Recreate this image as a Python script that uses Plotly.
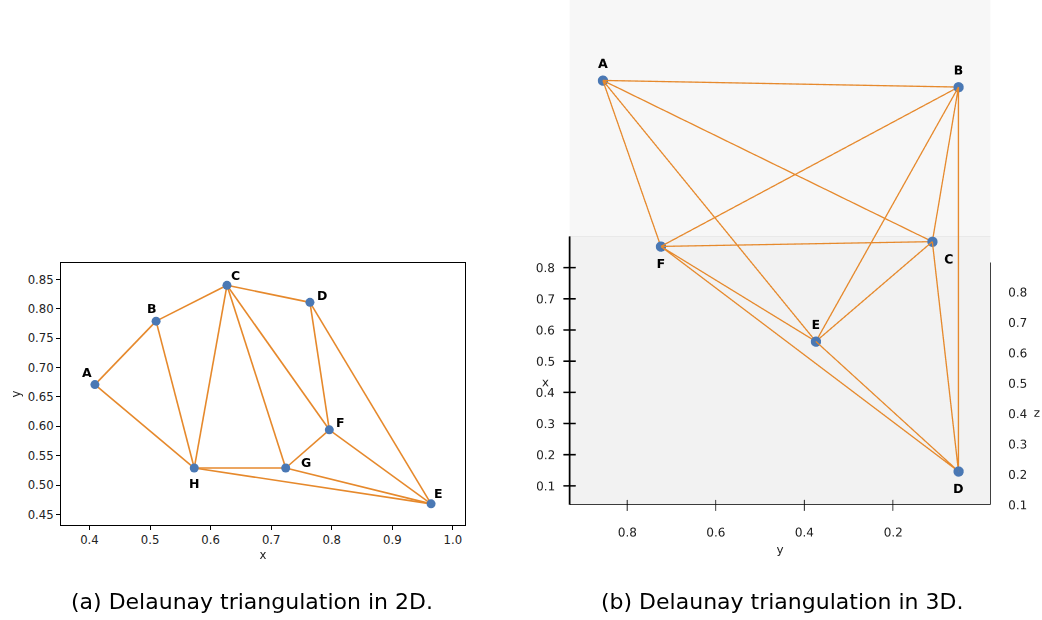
import math
import plotly.graph_objects as go

# ---------------- data: 2D panel ----------------
labels_2d = ["A", "B", "C", "D", "E", "F", "G", "H"]
x_2d = [0.409, 0.510, 0.627, 0.764, 0.964, 0.796, 0.724, 0.573]
y_2d = [0.671, 0.779, 0.840, 0.811, 0.468, 0.594, 0.529, 0.529]
edges_2d = [("A", "B"), ("A", "H"), ("B", "C"), ("B", "H"), ("C", "H"),
            ("C", "D"), ("C", "G"), ("C", "F"), ("D", "F"), ("D", "E"),
            ("F", "G"), ("F", "E"), ("G", "H"), ("G", "E"), ("H", "E")]
x_ticks_2d = [0.4, 0.5, 0.6, 0.7, 0.8, 0.9, 1.0]
y_ticks_2d = [0.45, 0.50, 0.55, 0.60, 0.65, 0.70, 0.75, 0.80, 0.85]

# ---------------- data: 3D panel ----------------
labels_3d = ["A", "B", "C", "D", "E", "F"]
x_3d = [0.831, 0.685, 0.470, 0.092, 0.298, 0.556]
y_3d = [0.855, 0.052, 0.111, 0.052, 0.374, 0.724]
z_3d = [0.664, 0.792, 0.504, 0.136, 0.352, 0.400]
edges_3d = [("A", "B"), ("A", "F"), ("A", "E"), ("A", "C"), ("B", "F"),
            ("B", "E"), ("B", "C"), ("B", "D"), ("C", "F"), ("C", "E"),
            ("C", "D"), ("F", "E"), ("F", "D"), ("E", "D")]
x_ticks_3d = [0.1, 0.2, 0.3, 0.4, 0.5, 0.6, 0.7, 0.8]
y_ticks_3d = [0.2, 0.4, 0.6, 0.8]
z_ticks_3d = [0.1, 0.2, 0.3, 0.4, 0.5, 0.6, 0.7, 0.8]

captions = ["(a) Delaunay triangulation in 2D.", "(b) Delaunay triangulation in 3D."]

# axis limits of the 3D box
X0, X1 = 0.04, 0.90
Y0, Y1 = -0.02, 0.93
Z0, Z1 = 0.08, 0.88

BLUE = "#4a78b4"
ORANGE = "#e6892c"
W, H = 1042, 620
TXT = "#222222"

fig = go.Figure()

# ---------- 2D panel ----------
idx2 = {k: i for i, k in enumerate(labels_2d)}
ex, ey = [], []
for a, b in edges_2d:
    ex += [x_2d[idx2[a]], x_2d[idx2[b]], None]
    ey += [y_2d[idx2[a]], y_2d[idx2[b]], None]
fig.add_trace(go.Scatter(x=ex, y=ey, mode="lines", line=dict(color=ORANGE, width=1.6),
                         hoverinfo="skip", showlegend=False))
fig.add_trace(go.Scatter(x=x_2d, y=y_2d, mode="markers",
                         marker=dict(color=BLUE, size=9), showlegend=False))

off_2d = {"A": (-8, 12), "B": (-4, 13), "C": (9, 10), "D": (12, 7), "E": (7, 10),
          "F": (11, 7), "G": (20, 6), "H": (0, -15)}
for i, lab in enumerate(labels_2d):
    dx, dy = off_2d[lab]
    fig.add_annotation(x=x_2d[i], y=y_2d[i], xref="x", yref="y", text="<b>%s</b>" % lab,
                       showarrow=False, xshift=dx, yshift=dy,
                       font=dict(family="DejaVu Sans", size=12.5, color="black"))

axis_font = dict(family="DejaVu Sans", size=11.7, color=TXT)
common2d = dict(showline=True, linecolor="black", linewidth=1, mirror=True, ticks="outside",
                ticklen=4, tickcolor="black", showgrid=False, zeroline=False,
                tickfont=axis_font, automargin=False)

# ---------- 3D scene geometry ----------
ext = {"x": (X0, X1, 0.65), "y": (Y0, Y1, 0.70), "z": (Z0, Z1, 0.42)}
base_aspect = {"x": 1.0, "y": 1.0, "z": 0.75}
zoom = 420 / 287          # orthographic zoom is controlled by the aspect ratio
ranges, aspect, norm = {}, {}, {}
for k, (lo, hi, half) in ext.items():
    c = (lo + hi) / 2
    ranges[k] = [c - half, c + half]
    aspect[k] = zoom * base_aspect[k] * (2 * half) / (hi - lo)
    norm[k] = aspect[k] / (2 * half)      # normalised scene units per data unit

el = math.radians(39.6)

# move along the viewing direction (invisible in an orthographic view):
# positive = away from the camera, negative = towards it
def away(a):
    return a * math.cos(el) / norm["x"], -a * math.sin(el) / norm["z"]

FLAT = dict(ambient=1, diffuse=0, specular=0, fresnel=0, roughness=1)

def pane(xs, ys, zs, color):
    return go.Mesh3d(x=xs, y=ys, z=zs, i=[0, 0], j=[1, 2], k=[2, 3], color=color,
                     flatshading=True, hoverinfo="skip", showscale=False, lighting=FLAT)

dxp, dzp = away(0.03)
fig.add_trace(pane([X0 + dxp, X1 + dxp, X1 + dxp, X0 + dxp], [Y0, Y0, Y1, Y1],
                   [Z0 + dzp] * 4, "#f2f2f2"))                                   # floor
fig.add_trace(pane([X1 + dxp] * 4, [Y0, Y1, Y1, Y0],
                   [Z0 + dzp, Z0 + dzp, Z1 + dzp, Z1 + dzp], "#f7f7f7"))          # back wall
dxl, dzl = away(0.015)
fig.add_trace(go.Scatter3d(x=[X1 + dxl] * 2, y=[Y0, Y1], z=[Z0 + dzl] * 2, mode="lines",
                           line=dict(color="#e6e6e6", width=1.5),
                           hoverinfo="skip", showlegend=False))

idx3 = {k: i for i, k in enumerate(labels_3d)}
gx, gy, gz = [], [], []
for a, b in edges_3d:
    gx += [x_3d[idx3[a]], x_3d[idx3[b]], None]
    gy += [y_3d[idx3[a]], y_3d[idx3[b]], None]
    gz += [z_3d[idx3[a]], z_3d[idx3[b]], None]
fig.add_trace(go.Scatter3d(x=gx, y=gy, z=gz, mode="lines", line=dict(color=ORANGE, width=2.6),
                           hoverinfo="skip", showlegend=False))
pos3 = {"A": "top center", "B": "top center", "C": "bottom right", "D": "bottom center",
        "E": "top center", "F": "bottom center"}
fig.add_trace(go.Scatter3d(x=x_3d, y=y_3d, z=z_3d, mode="markers+text", text=labels_3d,
                           textposition=[pos3[l] for l in labels_3d],
                           textfont=dict(family="DejaVu Sans", size=12.5, color="black",
                                         weight="bold"),
                           marker=dict(color=BLUE, size=6, line=dict(width=0)),
                           hoverinfo="skip", showlegend=False))

# axis lines + ticks (lifted towards the camera so nothing hides them)
dxa, dza = away(-0.05)

def add_lines(xs, ys, zs, width=1.6):
    fig.add_trace(go.Scatter3d(x=[v + dxa if v is not None else None for v in xs], y=ys,
                               z=[v + dza if v is not None else None for v in zs],
                               mode="lines", line=dict(color="black", width=width),
                               hoverinfo="skip", showlegend=False))

add_lines([X0, X0], [Y0, Y1], [Z0, Z0])          # y axis (front floor edge)
add_lines([X0, X0], [Y0, Y0], [Z0, Z1])          # z axis (front right edge)
for t in y_ticks_3d:
    add_lines([X0 - 0.02, X0 + 0.015], [t, t], [Z0, Z0])

# x axis (left floor edge) and its ticks as thin flat strips on the floor plane
qx, qy, qz, qi, qj, qk = [], [], [], [], [], []

def strip(xa, xb, ya, yb):
    n = len(qx)
    qx.extend([xa + dxa, xb + dxa, xb + dxa, xa + dxa])
    qy.extend([ya, ya, yb, yb])
    qz.extend([Z0 + dza] * 4)
    qi.extend([n, n]); qj.extend([n + 1, n + 2]); qk.extend([n + 2, n + 3])

strip(X0, X1, Y1 - 0.002, Y1 + 0.002)
for t in x_ticks_3d:
    strip(t - 0.0025, t + 0.0025, Y1 - 0.014, Y1 + 0.014)
fig.add_trace(go.Mesh3d(x=qx, y=qy, z=qz, i=qi, j=qj, k=qk, color="black",
                        flatshading=True, hoverinfo="skip", showscale=False, lighting=FLAT))

lab_font = dict(family="DejaVu Sans", size=12, color=TXT)
fig.add_trace(go.Scatter3d(x=x_ticks_3d, y=[Y1 + 0.008] * len(x_ticks_3d),
                           z=[Z0] * len(x_ticks_3d), mode="text",
                           text=["%.1f" % t for t in x_ticks_3d], textposition="middle left",
                           textfont=lab_font, hoverinfo="skip", showlegend=False))
fig.add_trace(go.Scatter3d(x=[X0 - 0.035] * len(y_ticks_3d), y=y_ticks_3d,
                           z=[Z0] * len(y_ticks_3d), mode="text",
                           text=["%.1f" % t for t in y_ticks_3d], textposition="bottom center",
                           textfont=lab_font, hoverinfo="skip", showlegend=False))
fig.add_trace(go.Scatter3d(x=[X0 - 0.02] * len(z_ticks_3d), y=[Y0 - 0.015] * len(z_ticks_3d),
                           z=z_ticks_3d, mode="text",
                           text=["%.1f" % t for t in z_ticks_3d], textposition="middle right",
                           textfont=lab_font, hoverinfo="skip", showlegend=False))
fig.add_trace(go.Scatter3d(x=[0.43, X0 - 0.15, X0], y=[Y1 + 0.055, (Y0 + Y1) / 2, Y0 - 0.105],
                           z=[Z0, Z0, 0.38], mode="text", text=["x", "y", "z"],
                           textposition="middle center", textfont=lab_font,
                           hoverinfo="skip", showlegend=False))

hidden = dict(showgrid=False, zeroline=False, showline=False, ticks="", showticklabels=False,
              showbackground=False, showspikes=False, title=dict(text=""))
r = 3.0
PX = 287.0                 # screen pixels per normalised scene unit
sx, sy = -6 / PX, -38.5 / PX
cen = dict(x=sy * math.sin(el), y=sx, z=sy * math.cos(el))
eye = dict(x=cen["x"] - r * math.cos(el), y=cen["y"], z=cen["z"] + r * math.sin(el))

fig.update_layout(
    template="none",
    width=W, height=H, margin=dict(l=0, r=0, t=0, b=0),
    paper_bgcolor="white", plot_bgcolor="white", showlegend=False,
    xaxis=dict(domain=[61 / W, 465 / W], range=[0.353, 1.020], tickvals=x_ticks_2d,
               tickformat=".1f", title=dict(text="x", font=axis_font, standoff=4), **common2d),
    yaxis=dict(domain=[(H - 525) / H, (H - 263) / H], range=[0.432, 0.878], tickvals=y_ticks_2d,
               tickformat=".2f", title=dict(text="y", font=axis_font, standoff=4), **common2d),
    scene=dict(
        domain=dict(x=[530 / W, 1.0], y=[(H - 575) / H, 1.0]),
        xaxis=dict(range=ranges["x"], **hidden),
        yaxis=dict(range=ranges["y"], **hidden),
        zaxis=dict(range=ranges["z"], **hidden),
        aspectmode="manual", aspectratio=aspect,
        camera=dict(up=dict(x=0, y=0, z=1), center=cen, eye=eye,
                    projection=dict(type="orthographic")),
        bgcolor="white",
    ),
)

for i, cap in enumerate(captions):
    fig.add_annotation(x=[252, 782][i] / W, y=(H - 601) / H, xref="paper", yref="paper",
                       xanchor="center", yanchor="middle", text=cap, showarrow=False,
                       font=dict(family="DejaVu Sans", size=22, color="black"))

fig.write_html("out.html", config={"displayModeBar": False},
               post_script="document.body.style.margin='0';document.body.style.overflow='hidden';")
